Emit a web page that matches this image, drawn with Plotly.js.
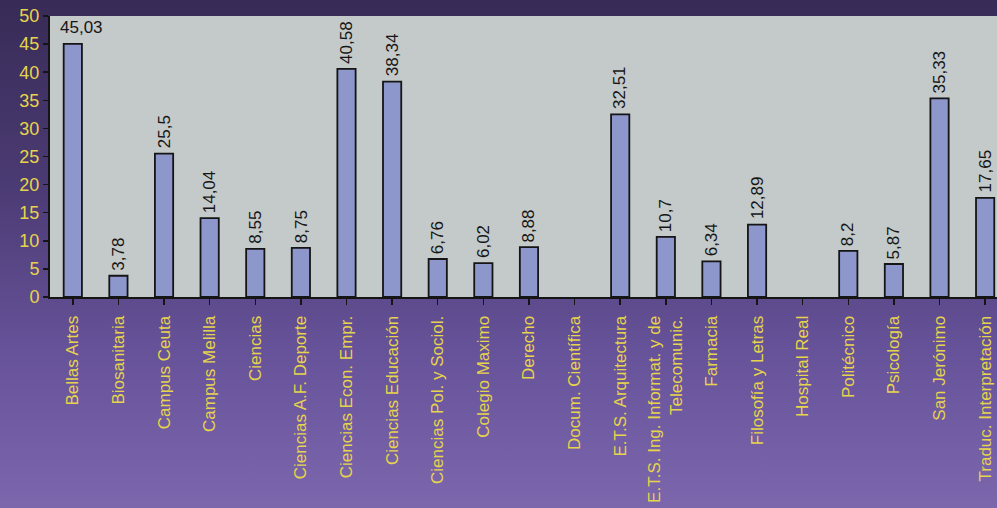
<!DOCTYPE html>
<html>
<head>
<meta charset="utf-8">
<script src="https://cdn.plot.ly/plotly-3.0.1.min.js"></script>
<style>
html,body{margin:0;padding:0;}
body{width:997px;height:508px;overflow:hidden;background:linear-gradient(to bottom,#382b56 0%,#4a3a72 35%,#67539a 70%,#7c67ad 100%);}
#chart{width:997px;height:508px;}
</style>
</head>
<body>
<div id="chart"></div>
<script>
const categories = [
  "Bellas Artes","Biosanitaria","Campus Ceuta","Campus Melilla","Ciencias",
  "Ciencias A.F. Deporte","Ciencias Econ. Empr.","Ciencias Educación","Ciencias Pol. y Sociol.","Colegio Maximo",
  "Derecho","Docum. Científica","E.T.S. Arquitectura","E.T.S. Ing. Informat. y de<br>Telecomunic.","Farmacia",
  "Filosofía y Letras","Hospital Real","Politécnico","Psicología","San Jerónimo",
  "Traduc. Interpretación"
];
const values = [
  45.03, 3.78, 25.5, 14.04, 8.55,
  8.75, 40.58, 38.34, 6.76, 6.02,
  8.88, null, 32.51, 10.7, 6.34,
  12.89, null, 8.2, 5.87, 35.33,
  17.65
];
const yTicks = [0,5,10,15,20,25,30,35,40,45,50];

const fmt = v => String(v).replace('.', ',');

const annotations = [];
values.forEach((v, i) => {
  if (v === null) return;
  const horizontal = (i === 0);
  annotations.push({
    x: i, y: v, xref: 'x', yref: 'y',
    text: fmt(v),
    showarrow: false,
    textangle: horizontal ? 0 : -90,
    xanchor: 'center', yanchor: 'bottom',
    xshift: horizontal ? 9 : 0,
    yshift: horizontal ? 5 : 3,
    font: {family: 'Liberation Sans, Arial, sans-serif', size: 17, color: '#161616'}
  });
});

const trace = {
  type: 'bar',
  x: categories.map((c, i) => i),
  y: values,
  width: 0.4,
  marker: {color: '#8d97cc', line: {color: '#151515', width: 1.8}},
  hoverinfo: 'none'
};

const layout = {
  width: 997, height: 508,
  margin: {l: 50, r: 0, t: 16, b: 211, pad: 0},
  paper_bgcolor: 'rgba(0,0,0,0)',
  plot_bgcolor: '#c4c9c9',
  showlegend: false,
  font: {family: 'Liberation Sans, Arial, sans-serif'},
  xaxis: {
    range: [-0.5, 20.26],
    automargin: false,
    tickmode: 'array',
    tickvals: categories.map((c, i) => i),
    ticktext: categories,
    tickangle: -90,
    tickson: 'boundaries',
    ticklabelstandoff: 4,
    ticks: 'outside', ticklen: 6, tickcolor: '#151515', tickwidth: 1.5,
    showline: true, linecolor: '#151515', linewidth: 2,
    showgrid: false, zeroline: false,
    tickfont: {size: 17, color: '#e6d44c'}
  },
  yaxis: {
    range: [0, 50],
    automargin: false,
    tickmode: 'array', tickvals: yTicks, ticktext: yTicks.map(String),
    ticks: 'outside', ticklen: 5, tickcolor: '#151515', tickwidth: 1.5,
    showline: true, linecolor: '#151515', linewidth: 2,
    showgrid: false, zeroline: false,
    tickfont: {size: 18, color: '#e6d44c'}
  },
  annotations: annotations
};

Plotly.newPlot('chart', [trace], layout, {displayModeBar: false, staticPlot: true});
</script>
</body>
</html>
